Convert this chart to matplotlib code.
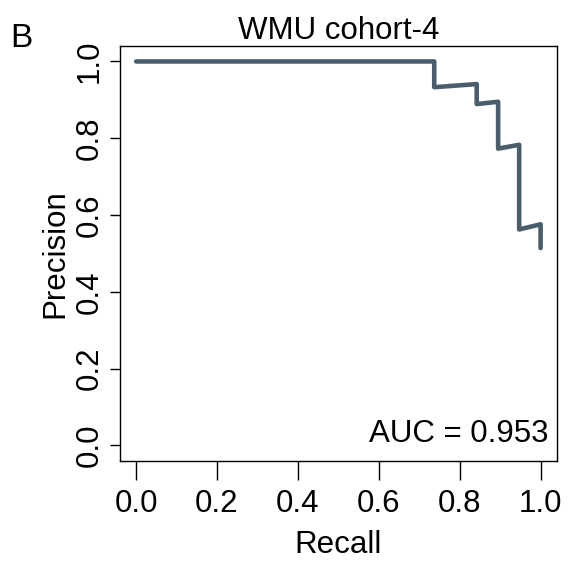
import numpy as np
import matplotlib.pyplot as plt

plt.rcParams['font.family'] = ['Liberation Sans', 'DejaVu Sans']

recall = [0.0, 0.737, 0.737, 0.842, 0.842, 0.895, 0.895, 0.947, 0.947, 1.0, 1.0]
precision = [1.0, 1.0, 0.933, 0.941, 0.889, 0.895, 0.773, 0.783, 0.5625, 0.576, 0.514]
ticks = [0.0, 0.2, 0.4, 0.6, 0.8, 1.0]
tick_labels = ['0.0', '0.2', '0.4', '0.6', '0.8', '1.0']

fig = plt.figure(figsize=(5.74, 5.62), dpi=100)
ax = fig.add_axes([0.209, 0.180, 0.761, 0.738])

ax.plot(recall, precision, color='#4a5d6b', lw=3.3, solid_capstyle='round')

ax.set_xlim(-0.04, 1.04)
ax.set_ylim(-0.04, 1.04)
ax.set_xticks(ticks)
ax.set_xticklabels(tick_labels, fontsize=22.5)
ax.set_yticks(ticks)
ax.set_yticklabels(tick_labels, fontsize=22.5, rotation=90, va='center')
ax.tick_params(axis='x', length=14, width=1, pad=6, direction='out')
ax.tick_params(axis='y', length=7, width=1, pad=4, direction='out')
for s in ax.spines.values():
    s.set_linewidth(1)

ax.set_xlabel('Recall', fontsize=22.5, labelpad=8)
ax.set_ylabel('Precision', fontsize=22.5, labelpad=3)
ax.set_title('WMU cohort-4', fontsize=22.5, pad=4)
ax.text(0.98, 0.065, 'AUC = 0.953', transform=ax.transAxes, ha='right', va='center', fontsize=22.5)
fig.text(0.018, 0.932, 'B', fontsize=24, ha='left', va='center')

fig.savefig('out.png', dpi=100)
